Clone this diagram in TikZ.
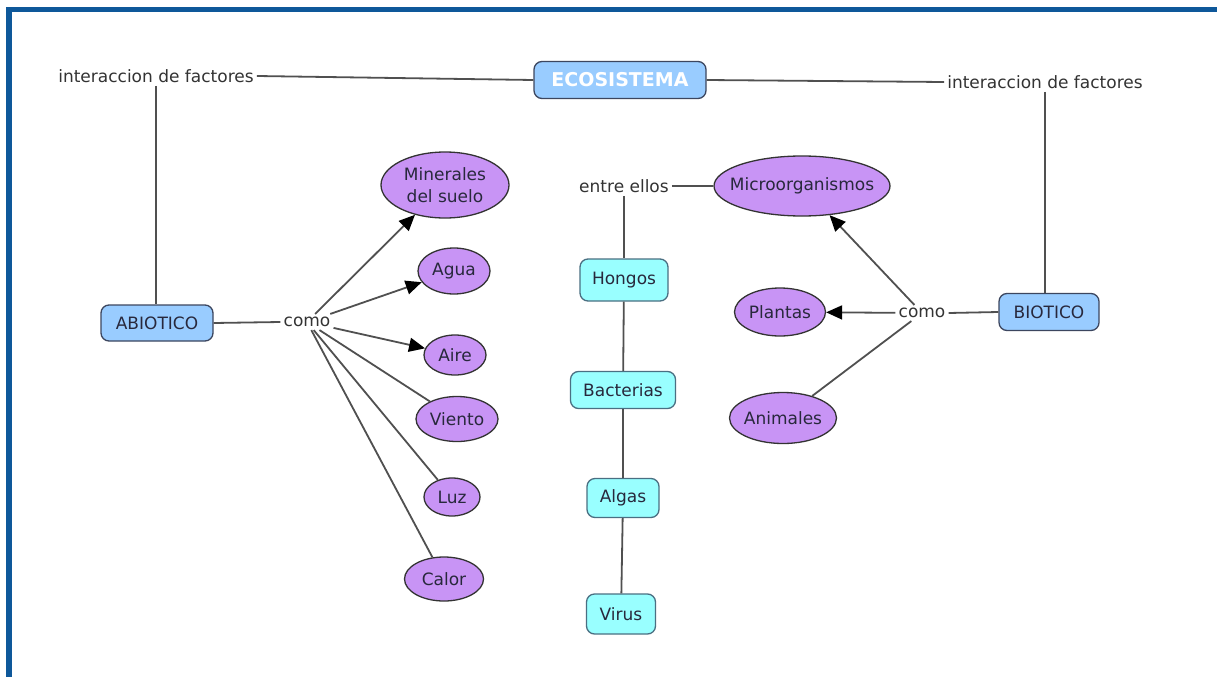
\documentclass[tikz,border=0pt]{standalone}
\usepackage{fontspec}
\setmainfont{DejaVu Sans}
\usetikzlibrary{shapes.geometric,arrows.meta}
\definecolor{frameblue}{RGB}{14,88,154}
\definecolor{boxblue}{RGB}{153,204,255}
\definecolor{boxcyan}{RGB}{153,255,255}
\definecolor{ovpurple}{RGB}{200,148,245}
\definecolor{linegray}{RGB}{80,80,80}
\definecolor{txtdark}{RGB}{40,40,60}
\definecolor{boxedge}{RGB}{60,70,95}
\tikzset{
  lbl/.style={font=\fontsize{17}{20}\selectfont, text=black!80, inner sep=3pt},
  bluebox/.style={draw=boxedge, line width=1.3pt, fill=boxblue, rounded corners=8pt, inner sep=0pt, text=txtdark, font=\fontsize{17}{20}\selectfont},
  cyanbox/.style={draw=black!55!cyan, line width=1.3pt, fill=boxcyan, rounded corners=8pt, inner sep=0pt, text=txtdark, font=\fontsize{17}{20}\selectfont},
  oval/.style={ellipse, draw=black!80, line width=1.3pt, fill=ovpurple, inner sep=0pt, text=txtdark, font=\fontsize{17}{20}\selectfont, align=center},
  conn/.style={draw=linegray, line width=1.8pt},
  arr/.style={conn, -{Triangle[length=16pt,width=14pt,color=black]}},
}
\begin{document}
\begin{tikzpicture}[x=1pt,y=-1pt]
\useasboundingbox (0,0) rectangle (1217,677);
\fill[white] (0,0) rectangle (1217,677);
\fill[frameblue] (6,7) rectangle (1217,12);
\fill[frameblue] (6,7) rectangle (12,677);

\node[bluebox, minimum width=172pt, minimum height=37pt, text=white, font=\fontsize{19}{22}\selectfont\bfseries] (eco) at (620,80) {ECOSISTEMA};
\node[lbl] (fl) at (156,76) {interaccion de factores};
\node[lbl] (fr) at (1045,82) {interaccion de factores};
\node[bluebox, minimum width=112pt, minimum height=36pt] (abio) at (157,323) {ABIOTICO};
\node[bluebox, minimum width=100pt, minimum height=37pt] (bio) at (1049,312) {BIOTICO};
\node[lbl] (comoL) at (307,322) {como};
\node[lbl] (comoR) at (922,313) {como};
\node[lbl] (entre) at (624,186) {entre ellos};

\node[oval, minimum width=128pt, minimum height=66pt] (min) at (445,185) {Minerales\\[2pt]del suelo};
\node[oval, minimum width=72pt, minimum height=46pt] (agua) at (454,271) {Agua};
\node[oval, minimum width=62pt, minimum height=40pt] (aire) at (455,355) {Aire};
\node[oval, minimum width=82pt, minimum height=45pt] (viento) at (457,419) {Viento};
\node[oval, minimum width=56pt, minimum height=38pt] (luz) at (452,497) {Luz};
\node[oval, minimum width=79pt, minimum height=44pt] (calor) at (444,579) {Calor};

\node[oval, inner xsep=-11pt, minimum width=176pt, minimum height=60pt] (micro) at (802,186) {Microorganismos};
\node[oval, minimum width=91pt, minimum height=48pt] (plantas) at (780,312) {Plantas};
\node[oval, inner xsep=-2pt, minimum width=107pt, minimum height=51pt] (anim) at (783,418) {Animales};

\node[cyanbox, minimum width=88pt, minimum height=42pt] (hongos) at (624,280) {Hongos};
\node[cyanbox, minimum width=105pt, minimum height=37pt] (bact) at (623,390) {Bacterias};
\node[cyanbox, minimum width=72pt, minimum height=39pt] (algas) at (623,498) {Algas};
\node[cyanbox, minimum width=69pt, minimum height=40pt] (virus) at (621,614) {Virus};

% connectors
\draw[conn] (fl.east) -- (eco.west);
\draw[conn] (eco.east) -- (fr.west);
\draw[conn] (fl.south) -- (fl.south |- abio.north);
\draw[conn] (fr.south) -- (fr.south |- bio.north);
\draw[conn] (abio.east) -- (comoL.west);
\draw[conn] (bio.west) -- (comoR.east);

\draw[arr] (comoL) -- (min);
\draw[arr] (comoL) -- (agua);
\draw[arr] (comoL) -- (aire);
\draw[conn] (comoL) -- (viento);
\draw[conn] (comoL) -- (luz);
\draw[conn] (comoL) -- (calor);

\draw[conn] (entre.east) -- (micro.west);
\draw[conn] (entre) -- (hongos);
\draw[conn] (hongos) -- (bact);
\draw[conn] (bact) -- (algas);
\draw[conn] (algas) -- (virus);

\draw[arr] (comoR) -- (micro);
\draw[arr] (comoR) -- (plantas);
\draw[conn] (comoR) -- (anim);
\end{tikzpicture}
\end{document}
